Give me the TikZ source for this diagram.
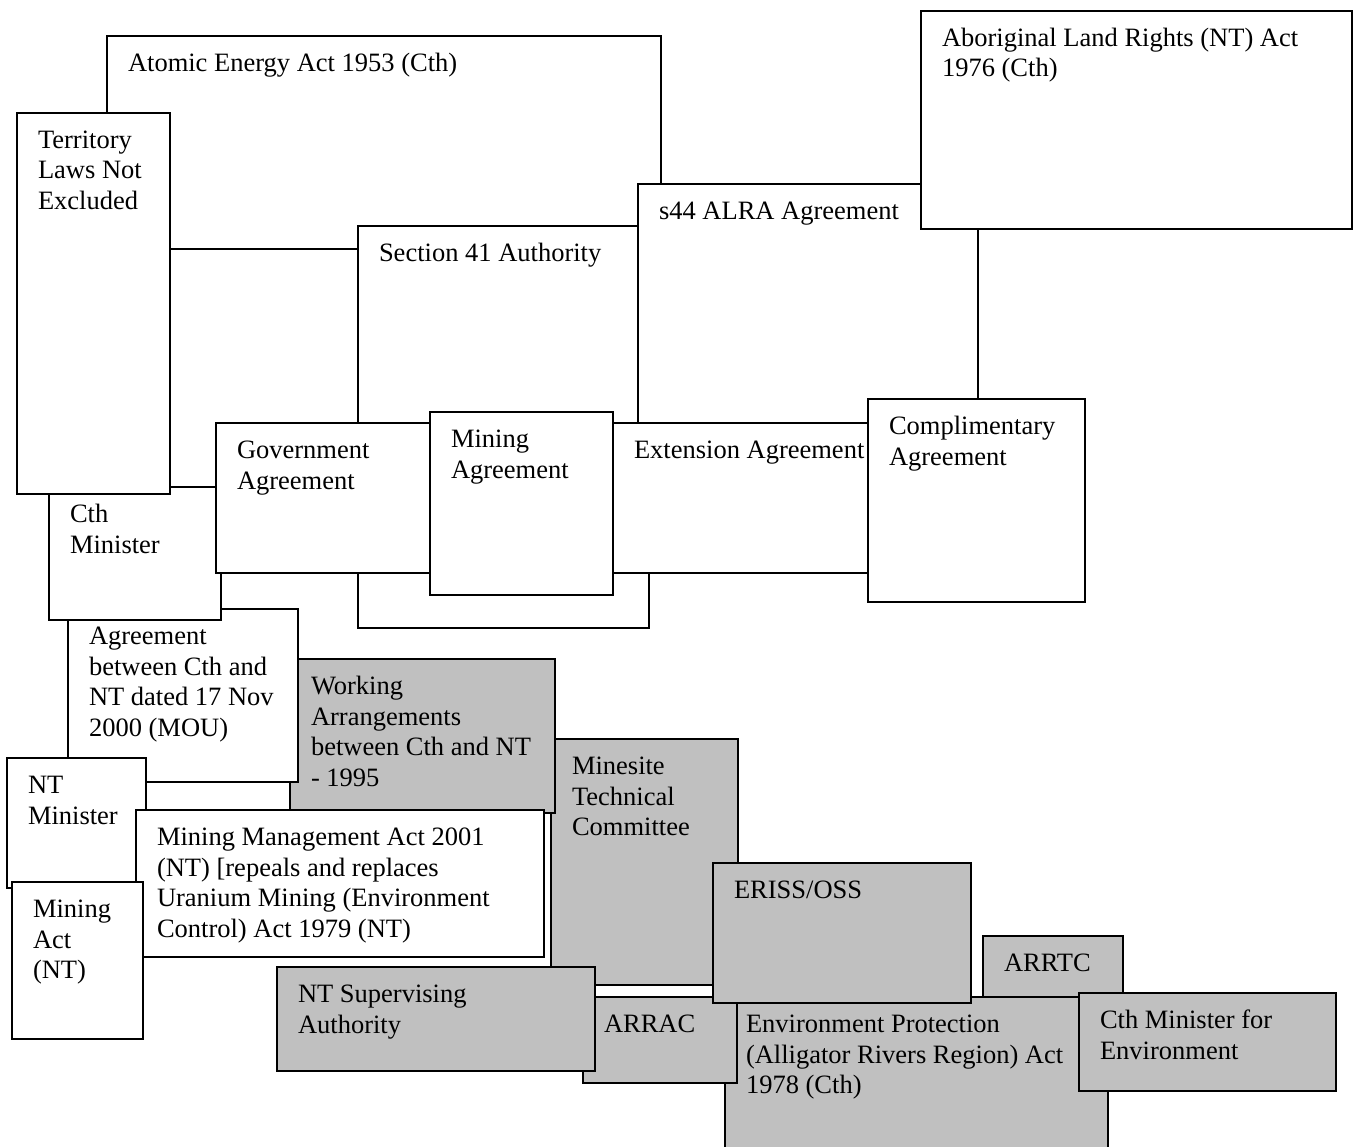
\documentclass[tikz,border=0pt]{standalone}
\usepackage{fontspec}
\setmainfont{Liberation Serif}
\definecolor{boxgray}{RGB}{192,192,192}
\newcommand{\txtlines}[1]{\begin{tabular}[t]{@{}l@{}}#1\end{tabular}}
\tikzset{
  box/.style={draw=black, line width=1.8pt, fill=white, anchor=north west,
    inner sep=0pt, outer sep=0pt},
  graybox/.style={box, fill=boxgray},
  boxtext/.style={anchor=base west, inner sep=0pt, outer sep=0pt,
    font=\fontsize{26.5}{30.5}\selectfont},
}
% style, name, x1, y1, x2, y2, text
\newcommand{\mkbox}[7]{%
  \node[#1, minimum width={#5pt-#3pt}, minimum height={#6pt-#4pt}] (#2) at (#3,#4) {};
  \node[boxtext] (#2-t) at ([shift={(21,35.5)}]#2.north west) {\txtlines{#7}};
}
\begin{document}
\begin{tikzpicture}[x=1pt,y=-1pt]
\useasboundingbox (0,0) rectangle (1359,1147);
% upper (white) boxes
\mkbox{box}{atomic}{107}{36}{661}{249}{Atomic Energy Act 1953 (Cth)}
\mkbox{box}{sec41}{358}{226}{649}{628}{Section 41 Authority}
\mkbox{box}{s44}{638}{184}{978}{500}{s44 ALRA Agreement}
\mkbox{box}{alra}{921}{11}{1352}{229}{Aboriginal Land Rights (NT) Act\\1976 (Cth)}
% middle
\mkbox{graybox}{minesite}{551}{739}{738}{985}{Minesite\\Technical\\Committee}
\mkbox{graybox}{working}{290}{659}{555}{813}{Working\\Arrangements\\between Cth and NT\\- 1995}
\mkbox{box}{agree}{68}{609}{298}{782}{Agreement\\between Cth and\\NT dated 17 Nov\\2000 (MOU)}
\mkbox{box}{cthmin}{49}{487}{221}{620}{Cth\\Minister}
\mkbox{box}{territory}{17}{113}{170}{494}{Territory\\Laws Not\\Excluded}
\mkbox{box}{gov}{216}{423}{430}{573}{Government\\Agreement}
\mkbox{box}{ext}{613}{423}{868}{573}{Extension Agreement}
\mkbox{box}{mining}{430}{412}{613}{595}{Mining\\Agreement}
\mkbox{box}{compl}{868}{399}{1085}{602}{Complimentary\\Agreement}
\mkbox{box}{ntmin}{7}{758}{146}{888}{NT\\Minister}
\mkbox{box}{mgmt}{136}{810}{544}{957}{Mining Management Act 2001\\(NT) [repeals and replaces\\Uranium Mining (Environment\\Control) Act 1979 (NT)}
\mkbox{box}{miningact}{12}{882}{143}{1039}{Mining\\Act\\(NT)}
% lower (grey) boxes
\mkbox{graybox}{ep}{725}{997}{1108}{1156}{Environment Protection\\(Alligator Rivers Region) Act\\1978 (Cth)}
\mkbox{graybox}{arrtc}{983}{936}{1123}{997}{ARRTC}
\mkbox{graybox}{arrac}{583}{997}{737}{1083}{ARRAC}
\mkbox{graybox}{eriss}{713}{863}{971}{1003}{ERISS/OSS}
\mkbox{graybox}{ntsup}{277}{967}{595}{1071}{NT Supervising\\Authority}
\mkbox{graybox}{cthenv}{1079}{993}{1336}{1091}{Cth Minister for\\Environment}
\end{tikzpicture}
\end{document}
